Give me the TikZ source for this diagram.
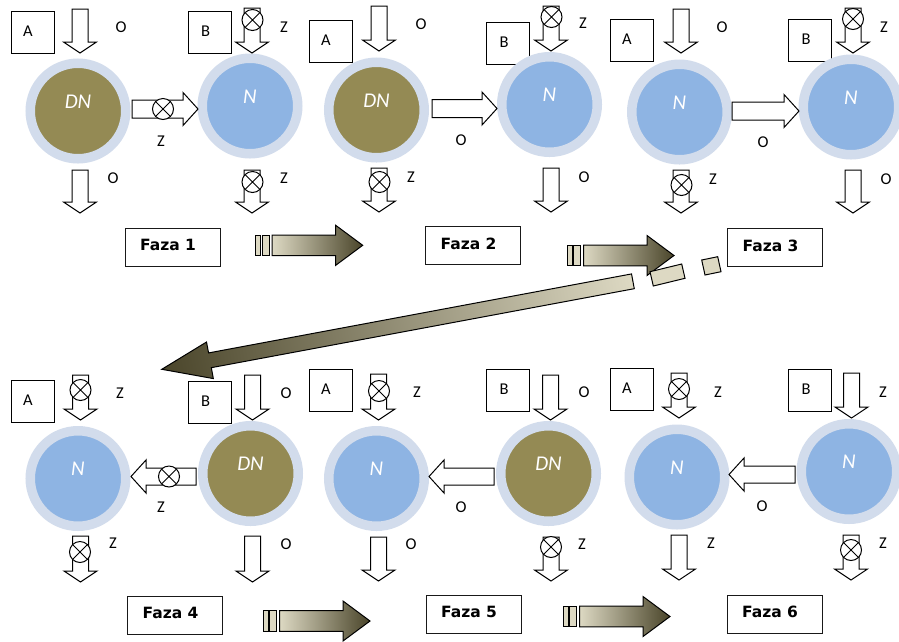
\documentclass[tikz,border=0pt]{standalone}
\usepackage{fontspec}
\setmainfont{Carlito}
\newfontfamily\fazafont{DejaVu Sans}
\usetikzlibrary{calc}
\definecolor{ringc}{HTML}{D2DCEC}
\definecolor{nblue}{HTML}{8EB4E3}
\definecolor{dnol}{HTML}{948A54}
\definecolor{tanlight}{HTML}{DDD9C3}
\definecolor{tandark}{HTML}{4A452A}
\tikzset{
  ln/.style={line width=1pt, draw=black, line join=miter},
  lbox/.style={ln, fill=white, rectangle, minimum width=43pt, minimum height=42pt, inner sep=0pt},
  fbox/.style={line width=0.8pt, draw=black!90, fill=white, rectangle, minimum width=95pt, minimum height=38pt, inner sep=0pt},
  lettr/.style={font=\fontsize{16.5}{19}\selectfont, inner sep=0pt},
  fazat/.style={font=\fazafont\bfseries\fontsize{15.5}{17}\selectfont, inner sep=0pt},
  circ/.style={circle, minimum size=95.5pt, inner sep=0pt, draw=ringc, line width=9.5pt},
  clab/.style={font=\itshape\fontsize{21}{23}\selectfont, text=white, inner sep=0pt},
  blockarrow/.style={ln, fill=white},
}
\newcommand\bdown[3]{%
  \draw[blockarrow] ({#1-8},#2) -- ({#1+8},#2) -- ({#1+8},{#3-11}) -- ({#1+16.5},{#3-11}) -- (#1,#3) -- ({#1-16.5},{#3-11}) -- ({#1-8},{#3-11}) -- cycle;}
\newcommand\bright[3]{%
  \draw[blockarrow] (#1,{#3-9}) -- ({#2-15},{#3-9}) -- ({#2-15},{#3-16.5}) -- (#2,#3) -- ({#2-15},{#3+16.5}) -- ({#2-15},{#3+9}) -- (#1,{#3+9}) -- cycle;}
\newcommand\bleft[3]{%
  \draw[blockarrow] (#1,{#3-8.5}) -- ({#2+15},{#3-8.5}) -- ({#2+15},{#3-16.5}) -- (#2,#3) -- ({#2+15},{#3+16.5}) -- ({#2+15},{#3+8.5}) -- (#1,{#3+8.5}) -- cycle;}
\newcommand\xmk[2]{%
  \draw[ln, fill=white] (#1,#2) circle[radius=10.5pt];
  \draw[ln] ({#1-7.4},{#2-7.4}) -- ({#1+7.4},{#2+7.4}) ({#1-7.4},{#2+7.4}) -- ({#1+7.4},{#2-7.4});}
\newcommand\phasearrow[2]{%
  \draw[ln, fill=tanlight] (#1,{#2-10.3}) rectangle ({#1+5},{#2+10.3});
  \draw[ln, fill=tanlight] ({#1+6.5},{#2-10.3}) rectangle ({#1+13.5},{#2+10.3});
  \draw[ln, left color=tanlight, right color=tandark] ({#1+16.5},{#2-10.3}) -- ({#1+80},{#2-10.3}) -- ({#1+80},{#2-20}) -- ({#1+107},#2) -- ({#1+80},{#2+20}) -- ({#1+80},{#2+10.3}) -- ({#1+16.5},{#2+10.3}) -- cycle;}
\begin{document}
\begin{tikzpicture}[x=1pt,y=-1pt]
\fill[white] (0,0) rectangle (899,641);
\useasboundingbox (0,0) rectangle (899,641);

% ---------- A / B boxes ----------
\node[lbox, label={[lettr,xshift=-4.5pt,yshift=1pt]center:A}] (p1a) at (32.5,32) {};
\node[lbox, label={[lettr,xshift=-4pt,yshift=1pt]center:B}] (p1b) at (209.5,32.5) {};
\node[lbox, label={[lettr,xshift=-4.5pt,yshift=1pt]center:A}] (p2a) at (330.5,41.5) {};
\node[lbox, label={[lettr,xshift=-4pt,yshift=1pt]center:B}] (p2b) at (508,43) {};
\node[lbox, label={[lettr,xshift=-4.5pt,yshift=1pt]center:A}] (p3a) at (631.5,40) {};
\node[lbox, label={[lettr,xshift=-4pt,yshift=1pt]center:B}] (p3b) at (810,40.5) {};
\node[lbox, label={[lettr,xshift=-4.5pt,yshift=1pt]center:A}] (p4a) at (32.5,401.5) {};
\node[lbox, label={[lettr,xshift=-4pt,yshift=1pt]center:B}] (p4b) at (209.5,402.5) {};
\node[lbox, label={[lettr,xshift=-4.5pt,yshift=1pt]center:A}] (p5a) at (330.5,390.5) {};
\node[lbox, label={[lettr,xshift=-4pt,yshift=1pt]center:B}] (p5b) at (508,390.5) {};
\node[lbox, label={[lettr,xshift=-4.5pt,yshift=1pt]center:A}] (p6a) at (631.5,389) {};
\node[lbox, label={[lettr,xshift=-4pt,yshift=1pt]center:B}] (p6b) at (810,390) {};

% ---------- circles ----------
\node[circ, fill=dnol]  (p1l) at (78,111) {};
\node[circ, fill=nblue] (p1r) at (250,106) {};
\node[circ, fill=dnol]  (p2l) at (376.5,110) {};
\node[circ, fill=nblue] (p2r) at (549.5,104.5) {};
\node[circ, fill=nblue] (p3l) at (679.5,112) {};
\node[circ, fill=nblue] (p3r) at (851,107) {};
\node[circ, fill=nblue] (p4l) at (78,478.5) {};
\node[circ, fill=dnol]  (p4r) at (250.5,473.5) {};
\node[circ, fill=nblue] (p5l) at (376.5,478.5) {};
\node[circ, fill=dnol]  (p5r) at (548.5,473.5) {};
\node[circ, fill=nblue] (p6l) at (677,477) {};
\node[circ, fill=nblue] (p6r) at (849,471.5) {};

\node[clab] (p1lt) at ($(p1l.center)+(0,-9.5)$) {DN};
\node[clab] (p1rt) at ($(p1r.center)+(0,-9.5)$) {N};
\node[clab] (p2lt) at ($(p2l.center)+(0,-9.5)$) {DN};
\node[clab] (p2rt) at ($(p2r.center)+(0,-9.5)$) {N};
\node[clab] (p3lt) at ($(p3l.center)+(0,-9.5)$) {N};
\node[clab] (p3rt) at ($(p3r.center)+(0,-9.5)$) {N};
\node[clab] (p4lt) at ($(p4l.center)+(0,-9.5)$) {N};
\node[clab] (p4rt) at ($(p4r.center)+(0,-9.5)$) {DN};
\node[clab] (p5lt) at ($(p5l.center)+(0,-9.5)$) {N};
\node[clab] (p5rt) at ($(p5r.center)+(0,-9.5)$) {DN};
\node[clab] (p6lt) at ($(p6l.center)+(0,-9.5)$) {N};
\node[clab] (p6rt) at ($(p6r.center)+(0,-9.5)$) {N};

% ---------- vertical block arrows ----------
% phase 1
\bdown{80}{9}{53}
\bdown{252}{8}{53} \xmk{252.5}{20}
\bdown{80}{170}{213}
\bdown{252}{170}{213} \xmk{252.5}{182}
% phase 2
\bdown{379}{6}{51}
\bdown{551}{6}{51} \xmk{551.5}{17}
\bdown{379}{168}{212} \xmk{379.5}{182}
\bdown{551}{168}{212}
% phase 3
\bdown{681}{9}{53}
\bdown{853}{8}{53} \xmk{853}{19}
\bdown{681}{170}{213} \xmk{681.5}{185}
\bdown{853}{170}{213}
% phase 4
\bdown{80.5}{375}{420} \xmk{80.5}{390}
\bdown{252.5}{375}{420}
\bdown{80.5}{536}{582} \xmk{80}{552}
\bdown{252.5}{536}{582}
% phase 5
\bdown{378.5}{374}{420} \xmk{379}{391}
\bdown{550.5}{375}{420}
\bdown{378.5}{537}{581}
\bdown{551}{537}{581} \xmk{551}{547}
% phase 6
\bdown{679}{373}{418} \xmk{679}{389}
\bdown{851.5}{373}{418}
\bdown{679}{535}{580}
\bdown{851}{535}{580} \xmk{851}{550}

% ---------- horizontal block arrows ----------
\bright{132}{198}{109} \xmk{163}{109}
\bright{432}{497}{108.5}
\bright{732}{799}{111}
\bleft{196}{131}{476.5} \xmk{169}{476.5}
\bleft{494}{429}{476.5}
\bleft{795}{729}{474.5}

% ---------- O / Z labels ----------
\node[lettr] (l1a) at (121,27) {O};
\node[lettr] (l1b) at (113,178) {O};
\node[lettr] (l1c) at (284,27) {Z};
\node[lettr] (l1d) at (284,178) {Z};
\node[lettr] (l1e) at (161,141) {Z};
\node[lettr] (l2a) at (421,24) {O};
\node[lettr] (l2b) at (411,177) {Z};
\node[lettr] (l2c) at (583,23) {Z};
\node[lettr] (l2d) at (584,177) {O};
\node[lettr] (l2e) at (461,140) {O};
\node[lettr] (l3a) at (722,27) {O};
\node[lettr] (l3b) at (713,179) {Z};
\node[lettr] (l3c) at (884,27) {Z};
\node[lettr] (l3d) at (886,179) {O};
\node[lettr] (l3e) at (763,142) {O};
\node[lettr] (l4a) at (120,393) {Z};
\node[lettr] (l4b) at (113,543) {Z};
\node[lettr] (l4c) at (286,393) {O};
\node[lettr] (l4d) at (286,544) {O};
\node[lettr] (l4e) at (161,507) {Z};
\node[lettr] (l5a) at (417,392) {Z};
\node[lettr] (l5b) at (411,544) {O};
\node[lettr] (l5c) at (584,392) {O};
\node[lettr] (l5d) at (582,544) {Z};
\node[lettr] (l5e) at (461,507) {O};
\node[lettr] (l6a) at (718,392) {Z};
\node[lettr] (l6b) at (711,543) {Z};
\node[lettr] (l6c) at (883,392) {Z};
\node[lettr] (l6d) at (883,543) {Z};
\node[lettr] (l6e) at (762,506) {O};

% ---------- Faza boxes ----------
\node[fbox, label={[fazat,xshift=-4.5pt,yshift=2pt]center:Faza 1}] (f1) at (172.5,247) {};
\node[fbox, label={[fazat,xshift=-4.5pt,yshift=2pt]center:Faza 2}] (f2) at (473,245.5) {};
\node[fbox, label={[fazat,xshift=-4.5pt,yshift=2pt]center:Faza 3}] (f3) at (775,247.5) {};
\node[fbox, label={[fazat,xshift=-4.5pt,yshift=2pt]center:Faza 4}] (f4) at (175,615) {};
\node[fbox, label={[fazat,xshift=-4.5pt,yshift=2pt]center:Faza 5}] (f5) at (473.5,614) {};
\node[fbox, label={[fazat,xshift=-4.5pt,yshift=2pt]center:Faza 6}] (f6) at (774.5,614) {};

% ---------- phase arrows ----------
\phasearrow{255.7}{245.3}
\phasearrow{567}{255.5}
\phasearrow{263}{621}
\phasearrow{563}{616.5}

% long return arrow
\begin{scope}[transform canvas={shift={(632.9,281.3)}, rotate=190.58}]
  \draw[ln, left color=tanlight, right color=tandark] (0,-7.5) -- (430.3,-7.5) -- (430.3,-18.6) -- (479.3,0) -- (430.3,18.6) -- (430.3,7.5) -- (0,7.5) -- cycle;
\end{scope}
% broken fragments
\draw[ln, fill=tanlight] (650,271.7) -- (681.7,264) -- (685,278.3) -- (653.3,286) -- cycle;
\draw[ln, fill=tanlight] (701.7,260) -- (717.7,256.7) -- (721,271.7) -- (705,275) -- cycle;
\end{tikzpicture}
\end{document}
